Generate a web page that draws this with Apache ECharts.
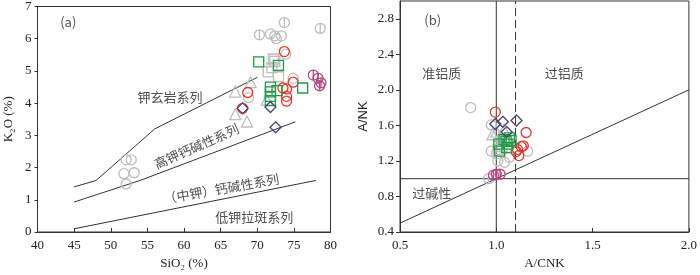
<!DOCTYPE html>
<html><head><meta charset="utf-8">
<script src="https://cdn.jsdelivr.net/npm/echarts@6/dist/echarts.min.js"></script>
<style>html,body{margin:0;padding:0;background:#fff}#c{width:700px;height:275px}</style>
</head><body><div id="c"></div>
<script>
// ---------- Panel (a): SiO2 vs K2O ----------
const aXTicks = [40,45,50,55,60,65,70,75,80];
const aYTicks = [0,1,2,3,4,5,6,7];
const aGrayCircle = [[52.1,2.24],[52.8,2.24],[51.8,1.81],[53.2,1.84],[52.1,1.49],[71.8,6.15],[72.4,6.09],[73.3,6.09],[72.6,6.0],[73.9,5.52],[74.9,4.77],[68.8,4.17]];
const aGrayCircleBar = [[73.7,6.5],[78.6,6.32],[70.3,6.12]];
const aGraySquare = [[72.2,5.37],[72.4,5.3],[71.5,4.97],[72.9,4.82],[72.0,5.1]];
const aGrayTri = [[67.0,4.36],[69.1,4.65],[67.0,3.66],[68.6,3.43],[71.3,4.11]];
const aRed = [[73.7,5.6],[68.7,4.33],[68.0,3.84],[74.9,4.65],[73.5,4.47],[74.0,4.44],[74.0,4.21],[74.0,4.06]];
const aGreen = [[70.2,5.28],[72.9,5.17],[76.2,4.47],[71.8,4.5],[71.8,4.35],[72.7,4.39],[71.8,4.21],[71.8,4.08]];
const aDiamond = [[68.0,3.84],[71.8,3.88],[72.5,3.25]];
const aMagenta = [[77.65,4.87],[78.3,4.77],[78.7,4.63],[78.5,4.54]];
const aLineShoshonite = [[45,1.4],[48,1.6],[56,3.2],[70,4.8]];
const aLineHKCA = [[45,0.93],[54,1.6],[75.2,3.42]];
const aLineLowK = [[45,0.1],[78,1.6]];
const aTexts = [
  {pos:[44.2,6.52], text:'(a)', rot:0},
  {pos:[58.1,4.2], text:'钾玄岩系列', rot:0},
  {pos:[61.7,2.66], text:'高钾钙碱性系列', rot:24},
  {pos:[65.1,1.34], text:'（中钾）钙碱性系列', rot:10},
  {pos:[69.6,0.46], text:'低钾拉斑系列', rot:0}
];
// ---------- Panel (b): A/CNK vs A/NK ----------
const bXTicks = [0.5,1.0,1.5,2.0];
const bYTicks = [0.4,0.8,1.2,1.6,2.0,2.4,2.8];
const bGrayCircle = [[0.867,1.8],[0.974,1.605],[0.974,1.31],[1.008,1.2],[1.043,1.185],[1.068,1.24],[1.163,1.31],[1.0,1.28]];
const bGrayCircleBar = [[0.96,1.0]];
const bGrayTri = [[0.98,1.5],[1.0,1.53],[1.04,1.55],[1.02,1.48]];
const bGraySquare = [[1.01,1.33],[1.03,1.36]];
const bRed = [[0.995,1.75],[1.155,1.52],[1.11,1.33],[1.13,1.36],[1.14,1.37],[1.103,1.305],[1.117,1.26]];
const bGreen = [[1.017,1.31],[1.013,1.39],[1.051,1.42],[1.068,1.46],[1.06,1.39],[1.04,1.44],[1.077,1.43],[1.055,1.35]];
const bDiamond = [[0.995,1.616],[1.034,1.64],[1.105,1.655],[1.054,1.525]];
const bMagenta = [[0.985,1.04],[1.0,1.05],[1.02,1.05]];
const bLineV1 = [[1.0,0.4],[1.0,3.0]];
const bLineV11 = [[1.1,0.4],[1.1,3.0]];
const bLineH = [[0.5,1.0],[2.0,1.0]];
const bLineDiag = [[0.5,0.5],[2.0,2.0]];
const bTexts = [
  {pos:[0.67,2.79], text:'(b)', rot:0},
  {pos:[0.717,2.19], text:'准铝质', rot:0},
  {pos:[1.353,2.19], text:'过铝质', rot:0},
  {pos:[0.665,0.84], text:'过碱性', rot:0}
];

const GRAY='#bdbdbd', RED='#e8352a', GREEN='#1f9a45', PURPLE='#4a4272', MAG='#b5487f', LINE='#333';
const SERIF='"Liberation Serif","DejaVu Serif",serif';
const CJK='"Noto Sans CJK SC",sans-serif';
const barCircle='path://M10,0A10,10,0,1,1,-10,0A10,10,0,1,1,10,0ZM0,-10L0,10';

function sc(idx, data, symbol, color, size){
  return {type:'scatter', xAxisIndex:idx, yAxisIndex:idx, data:data, symbol:symbol, symbolSize:size||10,
    itemStyle:{color:'rgba(0,0,0,0)', borderColor:color, borderWidth:1.3, opacity:1}, silent:true};
}
function ln(idx, data, dashed){
  return {type:'line', xAxisIndex:idx, yAxisIndex:idx, data:data, symbol:'none', silent:true,
    lineStyle:{color:LINE, width:1, type: dashed?[8,4]:'solid'}, z:1};
}
function txt(idx, list){
  return {type:'scatter', xAxisIndex:idx, yAxisIndex:idx, symbolSize:1, silent:true, z:10,
    itemStyle:{color:'rgba(0,0,0,0)'},
    data:list.map(t=>({value:t.pos, name:t.text, label:{rotate:t.rot}})),
    label:{show:true, position:'inside', formatter:p=>p.name, color:'#222', fontSize:13,
      fontFamily:CJK}};
}
const axLabel={fontFamily:SERIF, fontSize:13, color:'#222'};
const chart = echarts.init(document.getElementById('c'), null, {renderer:'canvas'});
chart.setOption({
  animation:false,
  grid:[
    {left:37.5, top:4, width:293, height:233, show:true, borderColor:LINE, borderWidth:1, backgroundColor:'transparent'},
    {left:400, top:1, width:290.3, height:237.3, show:true, borderColor:LINE, borderWidth:1, backgroundColor:'transparent'}
  ],
  xAxis:[
    {gridIndex:0, type:'value', min:aXTicks[0], max:aXTicks[aXTicks.length-1], interval:5, splitLine:{show:false},
      axisLine:{lineStyle:{color:LINE}}, axisTick:{inside:true, length:4, lineStyle:{color:LINE}},
      axisLabel:Object.assign({margin:7}, axLabel),
      name:'SiO₂ (%)', nameLocation:'middle', nameGap:25, nameTextStyle:{fontFamily:SERIF, fontSize:13, color:'#222'}},
    {gridIndex:1, type:'value', min:0.5, max:2.0, interval:0.5, splitLine:{show:false},
      axisLine:{lineStyle:{color:LINE}}, axisTick:{inside:true, length:4, lineStyle:{color:LINE}},
      axisLabel:Object.assign({margin:7, formatter:v=>v.toFixed(1)}, axLabel),
      name:'A/CNK', nameLocation:'middle', nameGap:25, nameTextStyle:{fontFamily:SERIF, fontSize:13, color:'#222'}}
  ],
  yAxis:[
    {gridIndex:0, type:'value', min:0, max:7, interval:1, splitLine:{show:false},
      axisLine:{lineStyle:{color:LINE}}, axisTick:{inside:false, length:3, lineStyle:{color:LINE}},
      axisLabel:Object.assign({margin:6}, axLabel),
      name:'K₂O (%)', nameLocation:'middle', nameGap:22, nameTextStyle:{fontFamily:SERIF, fontSize:13, color:'#222'}},
    {gridIndex:1, type:'value', min:0.4, max:3.0, interval:0.4, splitLine:{show:false},
      axisLine:{lineStyle:{color:LINE}},
      axisTick:{inside:false, length:4, lineStyle:{color:LINE}, customValues:bYTicks},
      axisLabel:Object.assign({margin:6, customValues:bYTicks, formatter:v=>Math.abs(v-3.0)<1e-6?'':v.toFixed(1)}, axLabel),
      name:'A/NK', nameLocation:'middle', nameGap:30, nameTextStyle:{fontFamily:'"Liberation Sans",Arial,sans-serif', fontSize:13, color:'#222'}}
  ],
  series:[
    ln(0,aLineShoshonite), ln(0,aLineHKCA), ln(0,aLineLowK),
    sc(0,aGrayCircle,'circle',GRAY), sc(0,aGrayCircleBar,barCircle,GRAY), sc(0,aGraySquare,'rect',GRAY),
    sc(0,aGrayTri,'triangle',GRAY,11),
    sc(0,aRed,'circle',RED), sc(0,aGreen,'rect',GREEN), sc(0,aDiamond,'diamond',PURPLE,11),
    sc(0,aMagenta,barCircle,MAG),
    txt(0,aTexts),
    ln(1,bLineV1), ln(1,bLineV11,true), ln(1,bLineH), ln(1,bLineDiag),
    sc(1,bGrayCircle,'circle',GRAY), sc(1,bGrayCircleBar,barCircle,GRAY), sc(1,bGrayTri,'triangle',GRAY,11),
    sc(1,bGraySquare,'rect',GRAY),
    sc(1,bRed,'circle',RED), sc(1,bGreen,'rect',GREEN), sc(1,bDiamond,'diamond',PURPLE,11),
    sc(1,bMagenta,barCircle,MAG),
    txt(1,bTexts)
  ]
});
</script></body></html>
